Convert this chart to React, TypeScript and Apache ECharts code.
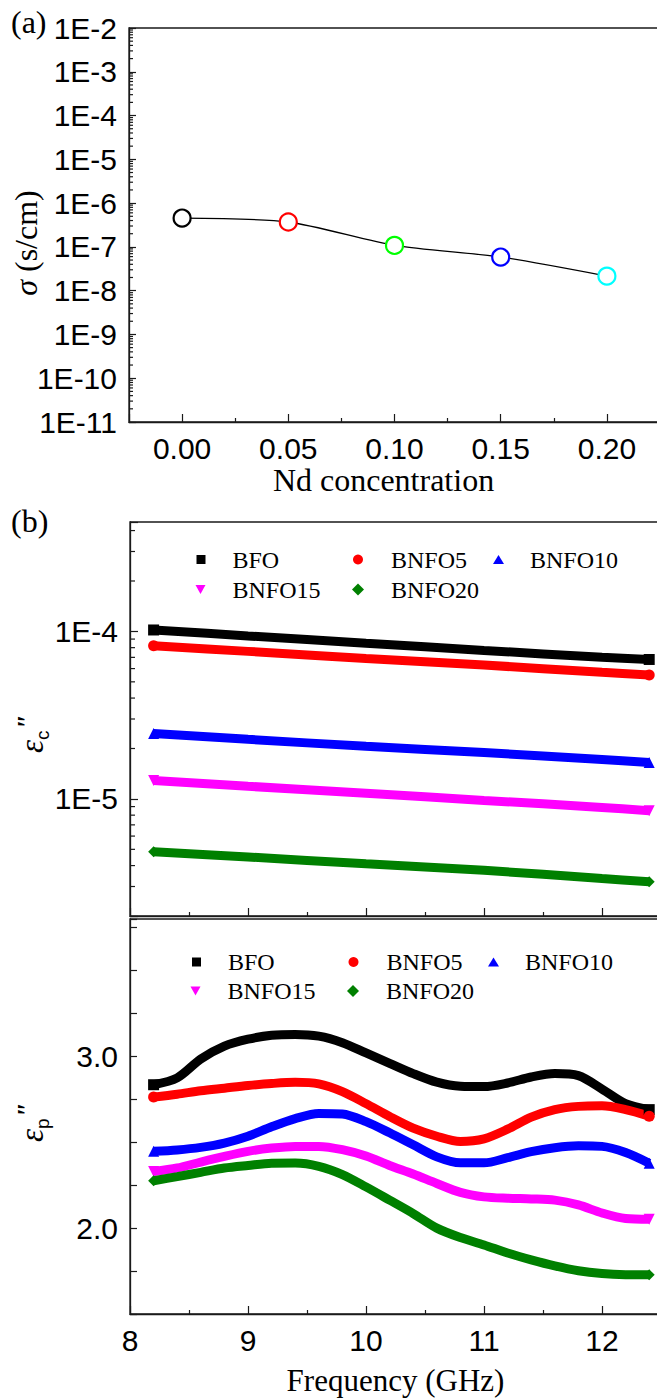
import React, { useEffect, useRef } from 'react';
import * as echarts from 'echarts';

// ---------- Panel (a): conductivity vs Nd concentration ----------
const ndConcentration = [0, 0.05, 0.1, 0.15, 0.2];
const sigmaValues = [4.55e-7, 3.7e-7, 1.08e-7, 5.85e-8, 2.15e-8];
const sigmaColors = ['#000000', '#ff0000', '#00ff00', '#0000ff', '#00ffff'];

// ---------- Panel (b): samples ----------
const sampleNames = ['BFO', 'BNFO5', 'BNFO10', 'BNFO15', 'BNFO20'];
const sampleColors = ['#000000', '#ff0000', '#0000ff', '#ff00ff', '#008000'];
const sampleSymbols = ['rect', 'circle', 'triangle', 'triangle', 'diamond'];
const sampleRotate = [0, 0, 0, 180, 0];

// conduction loss eps_c'' (log scale)
const freqC = [8.2, 9.0, 10.0, 11.0, 12.0, 12.4];
const epsC_BFO = [1.02e-4, 9.4e-5, 8.5e-5, 7.7e-5, 7.0e-5, 6.8e-5];
const epsC_BNFO5 = [8.2e-5, 7.6e-5, 6.9e-5, 6.3e-5, 5.7e-5, 5.5e-5];
const epsC_BNFO10 = [2.46e-5, 2.27e-5, 2.06e-5, 1.89e-5, 1.72e-5, 1.65e-5];
const epsC_BNFO15 = [1.29e-5, 1.19e-5, 1.08e-5, 9.8e-6, 8.9e-6, 8.5e-6];
const epsC_BNFO20 = [4.83e-6, 4.5e-6, 4.1e-6, 3.75e-6, 3.35e-6, 3.2e-6];

// polarization loss eps_p''
const freqP = [8.2, 8.4, 8.6, 8.8, 9.0, 9.2, 9.4, 9.6, 9.8, 10.0, 10.2, 10.4, 10.6, 10.8, 11.0, 11.2, 11.4, 11.6, 11.8, 12.0, 12.2, 12.4];
const epsP_BFO = [2.835, 2.875, 2.985, 3.06, 3.1, 3.123, 3.128, 3.118, 3.08, 3.02, 2.96, 2.9, 2.85, 2.826, 2.824, 2.845, 2.88, 2.9, 2.888, 2.81, 2.725, 2.69];
const epsP_BNFO5 = [2.763, 2.78, 2.8, 2.815, 2.83, 2.842, 2.849, 2.84, 2.795, 2.725, 2.65, 2.582, 2.535, 2.505, 2.52, 2.576, 2.646, 2.69, 2.709, 2.712, 2.69, 2.652];
const epsP_BNFO10 = [2.447, 2.455, 2.47, 2.495, 2.535, 2.59, 2.638, 2.668, 2.665, 2.62, 2.555, 2.485, 2.415, 2.38, 2.38, 2.41, 2.445, 2.468, 2.479, 2.476, 2.44, 2.378];
const epsP_BNFO15 = [2.33, 2.35, 2.385, 2.418, 2.447, 2.466, 2.476, 2.476, 2.457, 2.42, 2.365, 2.315, 2.26, 2.208, 2.182, 2.174, 2.17, 2.163, 2.135, 2.088, 2.056, 2.052];
const epsP_BNFO20 = [2.276, 2.3, 2.325, 2.35, 2.365, 2.378, 2.379, 2.36, 2.312, 2.24, 2.163, 2.085, 2.0, 1.945, 1.902, 1.855, 1.815, 1.78, 1.752, 1.736, 1.729, 1.728];

const epsC = [epsC_BFO, epsC_BNFO5, epsC_BNFO10, epsC_BNFO15, epsC_BNFO20];
const epsP = [epsP_BFO, epsP_BNFO5, epsP_BNFO10, epsP_BNFO15, epsP_BNFO20];

const SANS = '"Liberation Sans", Arial, sans-serif';
const SERIF = '"Liberation Serif", "Times New Roman", serif';
const AX = '#1a1a1a';

function logMinors(lo: number, hi: number) {
  const out: number[] = [];
  for (let d = Math.floor(Math.log10(lo)); d <= Math.ceil(Math.log10(hi)); d++) {
    for (let m = 2; m <= 9; m++) {
      const v = m * Math.pow(10, d);
      if (v > lo * 1.0001 && v < hi * 0.9999) out.push(v);
    }
  }
  return out;
}

function minorTickSeries(xi: number, yi: number, xMin: number, values: number[], len: number) {
  return {
    type: 'custom',
    xAxisIndex: xi,
    yAxisIndex: yi,
    silent: true,
    clip: false,
    z: 5,
    data: values.map((v) => [xMin, v]),
    renderItem: (_params: any, api: any) => {
      const p = api.coord([api.value(0), api.value(1)]);
      return {
        type: 'line',
        shape: { x1: p[0], y1: p[1], x2: p[0] + len, y2: p[1] },
        style: { stroke: AX, lineWidth: 1.2 },
      };
    },
  };
}

const isMult = (v: number, step: number) => Math.abs(v / step - Math.round(v / step)) < 1e-6;
const logLabel = (v: number) => {
  const e = Math.log10(v);
  return Math.abs(e - Math.round(e)) < 1e-6 ? '1E' + Math.round(e) : '';
};

const tickLabel = { fontFamily: SANS, fontSize: 30, color: '#000' };
const axisLine = { show: true, onZero: false, lineStyle: { color: AX, width: 1.3 } };

function epsName(sub: string, shift: number) {
  return {
    name: '{e|ε}{s|' + sub + '}{p|"}',
    nameTextStyle: {
      color: '#000',
      padding: [0, shift, 0, 0],
      rich: {
        e: { fontFamily: SERIF, fontStyle: 'italic', fontSize: 33, lineHeight: 40, verticalAlign: 'middle', color: '#000' },
        s: { fontFamily: SANS, fontSize: 19, lineHeight: 40, verticalAlign: 'bottom', color: '#000' },
        p: { fontFamily: SERIF, fontStyle: 'italic', fontWeight: 'bold', fontSize: 28, lineHeight: 40, verticalAlign: 'top', color: '#000' },
      },
    },
  };
}

function legendItem(i: number, left: number, cy: number, w: number, h: number, pad: number) {
  const icon = i === 3 ? 'path://M0,0L10,0L5,9Z' : sampleSymbols[i];
  return {
    left,
    top: cy - 12,
    padding: 0,
    selectedMode: false,
    symbolRotate: 0,
    itemWidth: w,
    itemHeight: h,
    data: [{ name: sampleNames[i], icon }],
    textStyle: { fontFamily: SERIF, fontSize: 24, color: '#000', padding: [0, 0, 0, pad] },
  };
}

function buildOption() {
  const grids = [
    { left: 129, top: 28, width: 531, height: 394 },
    { left: 130, top: 522, width: 531, height: 394 },
    { left: 130, top: 919, width: 531, height: 395 },
  ].map((g) => ({
    ...g, show: true, borderColor: AX, borderWidth: 1.3, backgroundColor: 'transparent',
    containLabel: false, outerBoundsMode: 'none',
  }));

  const tickStyle = { color: AX, width: 1.2 };

  const xAxes = [
    {
      gridIndex: 0, type: 'value', min: -0.025, max: 0.225,
      axisLine, axisTick: { inside: true, length: 8, lineStyle: tickStyle },
      minorTick: { show: true, splitNumber: 2, length: 4, lineStyle: tickStyle },
      splitLine: { show: false }, minorSplitLine: { show: false },
      axisLabel: { ...tickLabel, margin: 11, formatter: (v: number) => (isMult(v, 0.05) ? v.toFixed(2) : '') },
      name: 'Nd concentration', nameLocation: 'middle', nameGap: 42, nameMoveOverlap: false,
      nameTextStyle: { fontFamily: SERIF, fontSize: 32, color: '#000', padding: [0, 22, 0, 0] },
    },
    {
      gridIndex: 1, type: 'value', min: 8, max: 12.5, interval: 1,
      axisLine, axisTick: { inside: true, length: 8, lineStyle: tickStyle },
      minorTick: { show: true, splitNumber: 2, length: 4, lineStyle: tickStyle },
      splitLine: { show: false }, minorSplitLine: { show: false },
      axisLabel: { show: false },
    },
    {
      gridIndex: 2, type: 'value', min: 8, max: 12.5, interval: 1,
      axisLine, axisTick: { inside: true, length: 8, lineStyle: tickStyle },
      minorTick: { show: true, splitNumber: 2, length: 4, lineStyle: tickStyle },
      splitLine: { show: false }, minorSplitLine: { show: false },
      axisLabel: { ...tickLabel, margin: 11, formatter: (v: number) => (isMult(v, 1) ? String(Math.round(v)) : '') },
      name: 'Frequency (GHz)', nameLocation: 'middle', nameGap: 51, nameMoveOverlap: false,
      nameTextStyle: { fontFamily: SERIF, fontSize: 31, color: '#000' },
    },
  ];

  const yAxes = [
    {
      gridIndex: 0, type: 'log', logBase: 10, min: 1e-11, max: 1e-2,
      axisLine, axisTick: { inside: true, length: 7, lineStyle: tickStyle },
      splitLine: { show: false },
      axisLabel: { ...tickLabel, margin: 12, formatter: logLabel },
      name: '{i|σ} (s/cm)', nameLocation: 'middle', nameGap: 87, nameRotate: 90, nameMoveOverlap: false,
      nameTextStyle: {
        fontFamily: SERIF, fontSize: 32, color: '#000', padding: [0, 36, 0, 0],
        rich: { i: { fontFamily: SERIF, fontStyle: 'italic', fontSize: 32, color: '#000' } },
      },
    },
    {
      gridIndex: 1, type: 'log', logBase: 10, min: 2e-6, max: 4.5e-4,
      axisLine, axisTick: { inside: true, length: 8, lineStyle: tickStyle },
      splitLine: { show: false },
      axisLabel: { ...tickLabel, margin: 12, formatter: logLabel },
      nameLocation: 'middle', nameGap: 78, nameRotate: 90, nameMoveOverlap: false,
      ...epsName('c', 30),
    },
    {
      gridIndex: 2, type: 'value', min: 1.5, max: 3.8, interval: 0.25,
      axisLine, axisTick: { inside: true, length: 7, lineStyle: tickStyle },
      splitLine: { show: false },
      axisLabel: { ...tickLabel, margin: 12, formatter: (v: number) => (isMult(v, 1) ? v.toFixed(1) : '') },
      nameLocation: 'middle', nameGap: 78, nameRotate: 90, nameMoveOverlap: false,
      ...epsName('p', 12),
    },
  ];

  const series: any[] = [];

  series.push({
    type: 'line', name: 'sigma', xAxisIndex: 0, yAxisIndex: 0,
    smooth: 0.25, symbol: 'circle', symbolSize: 17, z: 3,
    lineStyle: { color: '#000', width: 1.3 },
    data: ndConcentration.map((x, i) => ({
      value: [x, sigmaValues[i]],
      itemStyle: { color: '#ffffff', borderColor: sigmaColors[i], borderWidth: 2.2 },
    })),
  });

  // dense-marker bands: line through every read point, marker shape shown at both ends
  const band = (i: number, xi: number, freq: number[], vals: number[]) => ({
    type: 'line', name: sampleNames[i], xAxisIndex: xi, yAxisIndex: xi,
    smooth: 0.3, symbol: sampleSymbols[i], symbolRotate: sampleRotate[i], symbolSize: 11,
    showAllSymbol: true,
    itemStyle: { color: sampleColors[i] },
    lineStyle: { color: sampleColors[i], width: 9 },
    data: freq.map((f, k) =>
      k === 0 || k === freq.length - 1 ? { value: [f, vals[k]] } : { value: [f, vals[k]], symbol: 'none' }
    ),
  });

  for (let i = 0; i < 5; i++) series.push(band(i, 1, freqC, epsC[i]));
  for (let i = 0; i < 5; i++) series.push(band(i, 2, freqP, epsP[i]));

  series.push(minorTickSeries(0, 0, -0.025, logMinors(1e-11, 1e-2), 4));
  series.push(minorTickSeries(1, 1, 8, logMinors(2e-6, 4.5e-4), 5));

  const legends = [
    legendItem(0, 196.5, 559.5, 9, 9, 22),
    legendItem(1, 353, 559.5, 10, 10, 23),
    legendItem(2, 493, 559.5, 11, 9, 21),
    legendItem(3, 195.5, 589.5, 11, 9, 21.5),
    legendItem(4, 352, 589.5, 12, 12, 22),
    legendItem(0, 192, 962, 9, 9, 22),
    legendItem(1, 348.5, 962, 10, 10, 23),
    legendItem(2, 488, 962, 11, 9, 21),
    legendItem(3, 190.5, 991, 11, 9, 21.5),
    legendItem(4, 347, 991, 12, 12, 22),
  ];

  return {
    animation: false,
    backgroundColor: '#ffffff',
    grid: grids,
    xAxis: xAxes,
    yAxis: yAxes,
    legend: legends,
    series,
    graphic: [
      { type: 'text', left: 11, top: 6, style: { text: '(a)', fontFamily: SERIF, fontSize: 32, fill: '#000' } },
      { type: 'text', left: 11, top: 505, style: { text: '(b)', fontFamily: SERIF, fontSize: 32, fill: '#000' } },
    ],
  };
}

export default function App() {
  const ref = useRef<HTMLDivElement>(null);
  useEffect(() => {
    if (!ref.current) return;
    const chart = echarts.init(ref.current, null, { renderer: 'svg' });
    chart.setOption(buildOption() as any);
    return () => chart.dispose();
  }, []);
  return (
    <div
      ref={ref}
      style={{ position: 'absolute', left: 0, top: 0, width: 657, height: 1398, background: '#fff' }}
    />
  );
}
